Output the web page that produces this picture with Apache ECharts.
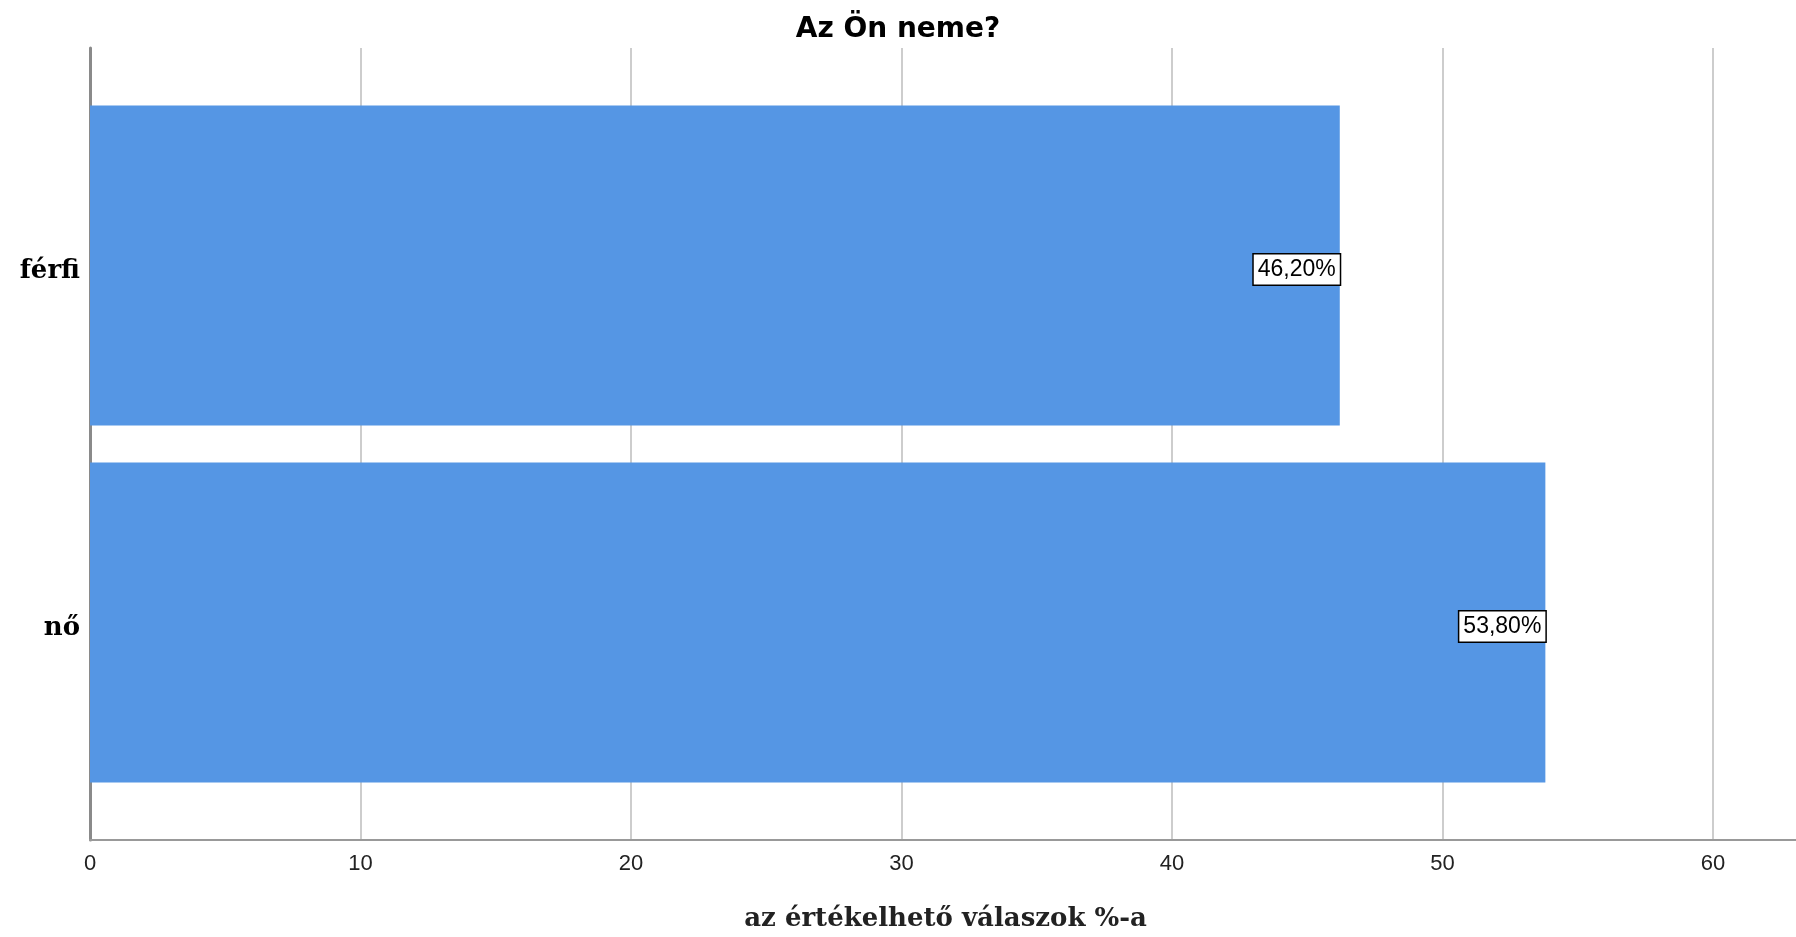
<!DOCTYPE html>
<html>
<head>
<meta charset="utf-8">
<script src="https://cdn.jsdelivr.net/npm/echarts@6/dist/echarts.min.js"></script>
<style>
html,body{margin:0;padding:0;background:#fff;}
#chart{width:1796px;height:937px;}
</style>
</head>
<body>
<div id="chart"></div>
<script>
const titleText = 'Az Ön neme?';
const categories = ['férfi', 'nő'];
const values = [46.2, 53.8];
const xTicks = [0, 10, 20, 30, 40, 50, 60];
const xName = 'az értékelhető válaszok %-a';

const xMax = 63.25;
const chart = echarts.init(document.getElementById('chart'));
const labelFmt = p => p.value.toFixed(2).replace('.', ',') + '%';

chart.setOption({
  backgroundColor: '#ffffff',
  animation: false,
  title: {
    text: titleText, left: 'center', top: 11,
    textStyle: { fontFamily: 'DejaVu Sans', fontWeight: 'bold', fontSize: 28, color: '#000' }
  },
  grid: [
    { left: 90, width: 1711, top: 87, height: 714, outerBoundsMode: 'none', containLabel: false },
    { left: 90, width: 1711, top: 48, height: 792, outerBoundsMode: 'none', containLabel: false }
  ],
  xAxis: [
    { gridIndex: 0, type: 'value', min: 0, max: xMax, show: false },
    {
      gridIndex: 1, type: 'value', min: 0, max: xMax, interval: 10,
      axisLine: { show: true, lineStyle: { color: '#999', width: 2 } },
      axisTick: { show: false },
      splitLine: { show: true, lineStyle: { color: '#cdcdcd', width: 2 } },
      axisLabel: {
        margin: 13, fontFamily: 'Liberation Sans', fontSize: 22, color: '#222',
        formatter: v => xTicks.includes(v) ? String(v) : ''
      },
      name: xName, nameLocation: 'middle', nameGap: 66,
      nameTextStyle: { fontFamily: 'DejaVu Serif', fontWeight: 'bold', fontSize: 26, color: '#222' }
    }
  ],
  yAxis: [
    {
      gridIndex: 0, type: 'category', data: categories, inverse: true,
      axisLine: { show: false }, axisTick: { show: false },
      axisLabel: {
        margin: 10, formatter: v => '{c|' + v + '}',
        rich: { c: { fontFamily: 'DejaVu Serif', fontWeight: 'bold', fontSize: 26, color: '#000', padding: [12, 0, 0, 0] } }
      }
    },
    {
      gridIndex: 1, type: 'value', min: 0, max: 1,
      axisLine: { show: true, lineStyle: { color: '#8a8a8a', width: 3 } },
      axisTick: { show: false }, axisLabel: { show: false }, splitLine: { show: false }
    }
  ],
  series: [{
    type: 'bar', xAxisIndex: 0, yAxisIndex: 0,
    data: values, barCategoryGap: '10.4%',
    itemStyle: { color: '#5596e4' },
    label: {
      show: true, position: 'insideRight', distance: 0, offset: [0, 4],
      formatter: labelFmt,
      fontFamily: 'Liberation Sans', fontSize: 23, color: '#000',
      backgroundColor: '#fff', borderColor: '#000', borderWidth: 1.5,
      padding: [4, 4, 3, 4]
    }
  }]
});
</script>
</body>
</html>
